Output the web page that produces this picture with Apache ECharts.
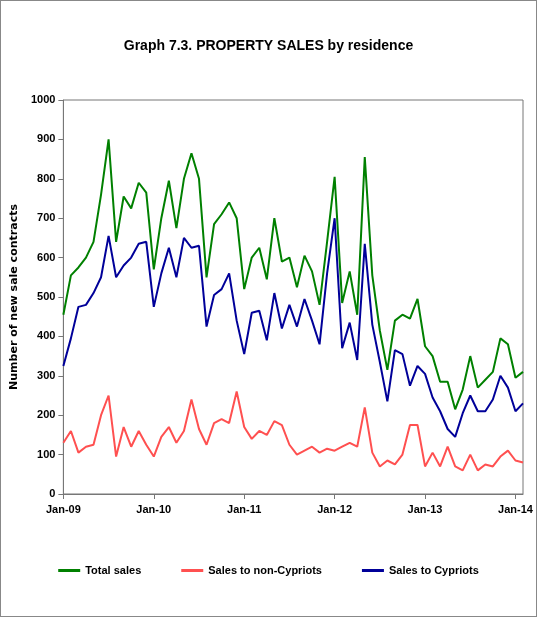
<!DOCTYPE html>
<html>
<head>
<meta charset="utf-8">
<script src="https://cdn.jsdelivr.net/npm/echarts@6/dist/echarts.min.js"></script>
<style>
  html, body { margin: 0; padding: 0; background: #fff; }
  #main { width: 537px; height: 617px; box-sizing: border-box; border: 1px solid #888; }
</style>
</head>
<body>
<div id="main"></div>
<script>
// monthly, Jan-09 .. Feb-14
const months = [];
const mNames = ['Jan', 'Feb', 'Mar', 'Apr', 'May', 'Jun', 'Jul', 'Aug', 'Sep', 'Oct', 'Nov', 'Dec'];
for (let y = 9; y <= 14; y++) {
  for (let m = 0; m < 12; m++) {
    if (y === 14 && m > 1) break;
    months.push(mNames[m] + '-' + (y < 10 ? '0' + y : y));
  }
}

const totalSales = [
  455, 555, 575, 600, 640, 760, 900, 640, 755, 725, 790, 765,
  570, 700, 795, 675, 800, 865, 800, 550, 685, 710, 740, 700,
  520, 600, 625, 545, 700, 590, 600, 525, 605, 565, 480, 640,
  805, 485, 565, 455, 855, 555, 415, 315, 440, 455, 445, 495,
  375, 350, 285, 285, 215, 265, 350, 270, 290, 310, 395, 380, 295, 310
];
const nonCypriots = [
  130, 160, 105, 120, 125, 200, 250, 95, 170, 120, 160, 125,
  95, 145, 170, 130, 160, 240, 165, 125, 180, 190, 180, 260,
  170, 140, 160, 150, 185, 175, 125, 100, 110, 120, 105, 115,
  110, 120, 130, 120, 220, 105, 70, 85, 75, 100, 175, 175,
  70, 105, 70, 120, 70, 60, 100, 60, 75, 70, 95, 110, 85, 80
];
const cypriots = [
  325, 395, 475, 480, 510, 550, 655, 550, 580, 600, 635, 640,
  475, 560, 625, 550, 650, 625, 630, 425, 505, 520, 560, 440,
  355, 460, 465, 390, 510, 420, 480, 425, 495, 440, 380, 560,
  700, 370, 435, 340, 635, 430, 335, 235, 365, 355, 275, 325,
  305, 245, 210, 165, 145, 205, 250, 210, 210, 240, 300, 270, 210, 230
];

const font = '"Liberation Sans Narrow", "Liberation Sans", Arial, sans-serif';
const chart = echarts.init(document.getElementById('main'));
const line = (name, data, color) => ({
  name: name, type: 'line', data: data, symbol: 'none',
  lineStyle: { color: color, width: 2 }, itemStyle: { color: color }
});

chart.setOption({
  animation: false,
  title: {
    text: 'Graph 7.3. PROPERTY SALES by residence',
    left: 'center', top: 33,
    textStyle: { fontFamily: font, fontSize: 14, fontWeight: 'bold', color: '#000' }
  },
  legend: {
    bottom: 35, itemGap: 40, itemWidth: 22, itemHeight: 3,
    icon: 'rect',
    textStyle: { fontFamily: font, fontSize: 11, fontWeight: 'bold', color: '#000' },
    data: ['Total sales', 'Sales to non-Cypriots', 'Sales to Cypriots']
  },
  grid: { left: 60, right: 13, top: 99, bottom: 122, show: true, borderColor: '#777', borderWidth: 1 },
  xAxis: {
    type: 'category', data: months, boundaryGap: false,
    axisLine: { lineStyle: { color: '#777' } },
    axisTick: { interval: 11, lineStyle: { color: '#777' } },
    axisLabel: { interval: 11, fontFamily: font, fontSize: 11, fontWeight: 'bold', color: '#000', margin: 10 }
  },
  yAxis: {
    type: 'value', min: 0, max: 1000, interval: 100,
    name: 'Number of new sale contracts', nameLocation: 'middle', nameGap: 38,
    nameTextStyle: { fontFamily: 'DejaVu Sans, sans-serif', fontSize: 11, fontWeight: 'bold', color: '#000' },
    splitLine: { show: false },
    axisLine: { show: true, lineStyle: { color: '#777' } },
    axisTick: { show: true, lineStyle: { color: '#777' } },
    axisLabel: { fontFamily: font, fontSize: 11, fontWeight: 'bold', color: '#000', formatter: v => String(v) }
  },
  series: [
    line('Total sales', totalSales, '#008000'),
    line('Sales to non-Cypriots', nonCypriots, '#ff5050'),
    line('Sales to Cypriots', cypriots, '#000099')
  ]
});
</script>
</body>
</html>
